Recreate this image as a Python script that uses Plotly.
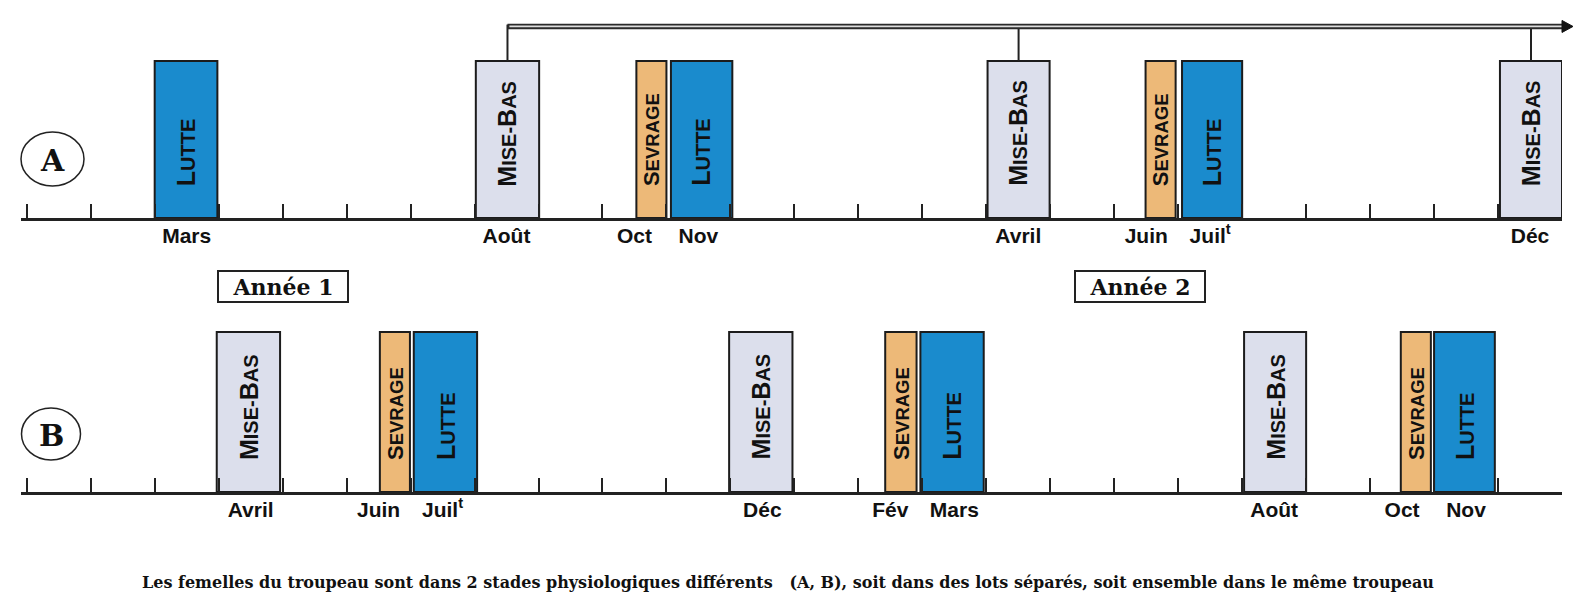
import plotly.graph_objects as go

# ---------------- data (time in months from 1 Jan of "Année 1": 0 .. 24) ----------------
month_bounds = list(range(0, 25))

# Row A
a_lutte_start = [2.0, 10.07, 18.06]
a_lutte_end = [2.98, 11.03, 19.0]
a_misebas_start = [7.02, 15.02, 23.03]
a_misebas_end = [8.01, 15.99, 24.0]
a_sevrage_start = [9.53, 17.49]
a_sevrage_end = [10.0, 17.96]
a_tick_pos = [2.5, 7.5, 9.5, 10.5, 15.5, 17.5, 18.5, 23.5]
a_tick_text = ["Mars", "Août", "Oct", "Nov", "Avril", "Juin", "Juil<sup>t</sup>", "Déc"]

# Row B
b_misebas_start = [2.97, 10.98, 19.03]
b_misebas_end = [3.96, 11.97, 20.0]
b_sevrage_start = [5.52, 13.42, 21.48]
b_sevrage_end = [5.99, 13.91, 21.95]
b_lutte_start = [6.05, 13.97, 22.0]
b_lutte_end = [7.04, 14.96, 22.95]
b_tick_pos = [3.5, 5.5, 6.5, 11.5, 13.5, 14.5, 19.5, 21.5, 22.5]
b_tick_text = ["Avril", "Juin", "Juil<sup>t</sup>", "Déc", "Fév", "Mars", "Août", "Oct", "Nov"]

year_labels = ["Année 1", "Année 2"]
row_labels = ["A", "B"]
caption = ("Les femelles du troupeau sont dans 2 stades physiologiques différents"
           "\u00a0\u00a0\u00a0(A, B), soit dans des lots séparés, soit ensemble dans le même troupeau")

# ---------------- styles ----------------
W, H = 1573, 595
LUTTE_C = "#1a8bcd"
MISE_C = "#dcdfec"
SEVR_C = "#edb978"
EDGE = "#1c1c1c"
INK = "#111111"
SANS = "Liberation Sans, Arial, sans-serif"
SERIF = "DejaVu Serif, Liberation Serif, serif"
BOX_H = 1.0
A_BASE_PX, A_BOX_PX = 218, 157
ARROW_Y = 1.22


def px_x(p):
    return p / W


def px_y(p):
    return (H - p) / H


fig = go.Figure()


def add_boxes(starts, ends, color, xa, ya):
    centers = [(s + e) / 2 for s, e in zip(starts, ends)]
    widths = [e - s for s, e in zip(starts, ends)]
    fig.add_trace(go.Bar(
        x=centers, y=[BOX_H] * len(centers), base=0, width=widths,
        marker=dict(color=color, line=dict(color=EDGE, width=2)),
        xaxis=xa, yaxis=ya, showlegend=False, hoverinfo="skip"))
    return centers


def sc(parts):
    out = ""
    for txt, size in parts:
        out += f"<span style='font-size:{size}px'>{txt}</span>"
    return out


LUTTE_TXT = sc([("L", 25), ("UTTE", 20)])
MISE_TXT = sc([("M", 25), ("ISE-", 20), ("B", 25), ("AS", 20)])
SEVR_TXT = sc([("S", 22), ("EVRAGE", 18.5)])


def add_box_labels(centers, text, size, xr, yr):
    for c in centers:
        fig.add_annotation(x=c, y=0.19, xref=xr, yref=yr, text=text, textangle=-90,
                           showarrow=False, xanchor="center", yanchor="bottom",
                           font=dict(family=SANS, size=size, color=INK, weight="bold"))


# Row A
ca_l = add_boxes(a_lutte_start, a_lutte_end, LUTTE_C, "x", "y")
ca_m = add_boxes(a_misebas_start, a_misebas_end, MISE_C, "x", "y")
ca_s = add_boxes(a_sevrage_start, a_sevrage_end, SEVR_C, "x", "y")
add_box_labels(ca_l, LUTTE_TXT, 25, "x", "y")
add_box_labels(ca_m, MISE_TXT, 25, "x", "y")
add_box_labels(ca_s, SEVR_TXT, 22, "x", "y")

# Row B
cb_m = add_boxes(b_misebas_start, b_misebas_end, MISE_C, "x2", "y2")
cb_s = add_boxes(b_sevrage_start, b_sevrage_end, SEVR_C, "x2", "y2")
cb_l = add_boxes(b_lutte_start, b_lutte_end, LUTTE_C, "x2", "y2")
add_box_labels(cb_l, LUTTE_TXT, 25, "x2", "y2")
add_box_labels(cb_m, MISE_TXT, 25, "x2", "y2")
add_box_labels(cb_s, SEVR_TXT, 22, "x2", "y2")

# connectors from the mise-bas boxes of row A to the arrow
vx, vy = [], []
for c in ca_m:
    vx += [c, c, None]
    vy += [BOX_H, ARROW_Y + 0.012, None]
fig.add_trace(go.Scatter(x=vx, y=vy, mode="lines", line=dict(color="#222", width=2),
                         xaxis="x", yaxis="y", showlegend=False, hoverinfo="skip", cliponaxis=False))
ARROW_END = 24.06
fig.add_trace(go.Scatter(x=[ca_m[0], ARROW_END], y=[ARROW_Y, ARROW_Y], mode="lines",
                         line=dict(color="#2a2a2a", width=5.5), xaxis="x", yaxis="y",
                         showlegend=False, hoverinfo="skip", cliponaxis=False))
fig.add_trace(go.Scatter(x=[ca_m[0] + 0.03, ARROW_END - 0.05], y=[ARROW_Y, ARROW_Y], mode="lines",
                         line=dict(color="#dedede", width=1.8), xaxis="x", yaxis="y",
                         showlegend=False, hoverinfo="skip", cliponaxis=False))

# arrowhead at the right edge of the page
arrow_py = A_BASE_PX - ARROW_Y * A_BOX_PX
fig.add_shape(type="path", xref="paper", yref="paper",
              path=(f"M {px_x(1562)} {px_y(arrow_py - 6)} L {px_x(1573)} {px_y(arrow_py)} "
                    f"L {px_x(1562)} {px_y(arrow_py + 6)} Z"),
              fillcolor="#111", line=dict(color="#111", width=1))

# axes
x_dom = [px_x(21), px_x(1562)]
x_rng = [-0.09, 24.0]
common_x = dict(domain=x_dom, range=x_rng, showgrid=False, zeroline=False, showline=True,
                linecolor="#222", linewidth=2.5, tickmode="array", ticks="inside", ticklen=0,
                tickfont=dict(family=SANS, size=21, color=INK, weight="bold"),
                ticklabelstandoff=-3, automargin=False,
                minor=dict(tickmode="array", tickvals=month_bounds, ticks="inside", ticklen=14,
                           tickwidth=2, tickcolor="#222"),
                fixedrange=True)
fig.update_layout(
    xaxis=dict(common_x, anchor="y", tickvals=a_tick_pos, ticktext=a_tick_text),
    xaxis2=dict(common_x, anchor="y2", tickvals=b_tick_pos, ticktext=b_tick_text),
    yaxis=dict(domain=[px_y(A_BASE_PX), 1.0], range=[0, A_BASE_PX / A_BOX_PX],
               visible=False, fixedrange=True),
    yaxis2=dict(domain=[px_y(492), px_y(322)], range=[0, 170 / 160], visible=False, fixedrange=True),
    barmode="overlay",
    width=W, height=H,
    margin=dict(l=0, r=0, t=0, b=0),
    paper_bgcolor="white", plot_bgcolor="white",
    showlegend=False,
)

# row letters in circles
for lab, (cx, cy, rx, ry) in zip(row_labels, [(52.5, 159, 31.5, 27), (51, 434, 29.5, 26)]):
    fig.add_shape(type="circle", xref="paper", yref="paper",
                  x0=px_x(cx - rx), x1=px_x(cx + rx), y0=px_y(cy + ry), y1=px_y(cy - ry),
                  line=dict(color="#222", width=1.5))
    fig.add_annotation(x=px_x(cx), y=px_y(cy + 1), xref="paper", yref="paper", text=lab,
                       showarrow=False, xanchor="center", yanchor="middle",
                       font=dict(family=SERIF, size=30, color=INK, weight="bold"))

# year boxes
for lab, cx in zip(year_labels, [282.5, 1139.5]):
    fig.add_annotation(x=px_x(cx), y=px_y(287), xref="paper", yref="paper", text=lab,
                       showarrow=False, xanchor="center", yanchor="middle",
                       width=124, height=25, borderpad=2,
                       bordercolor="#222", borderwidth=2, bgcolor="white",
                       font=dict(family=SERIF, size=22, color=INK, weight="bold"))

# caption
fig.add_annotation(x=px_x(788), y=px_y(582), xref="paper", yref="paper", text=caption,
                   showarrow=False, xanchor="center", yanchor="middle",
                   font=dict(family=SERIF, size=16, color=INK, weight="bold"))

fig.write_html("out.html", config={"displayModeBar": False},
               post_script="document.body.style.margin='0px';"
                           "document.body.style.overflow='hidden';")
